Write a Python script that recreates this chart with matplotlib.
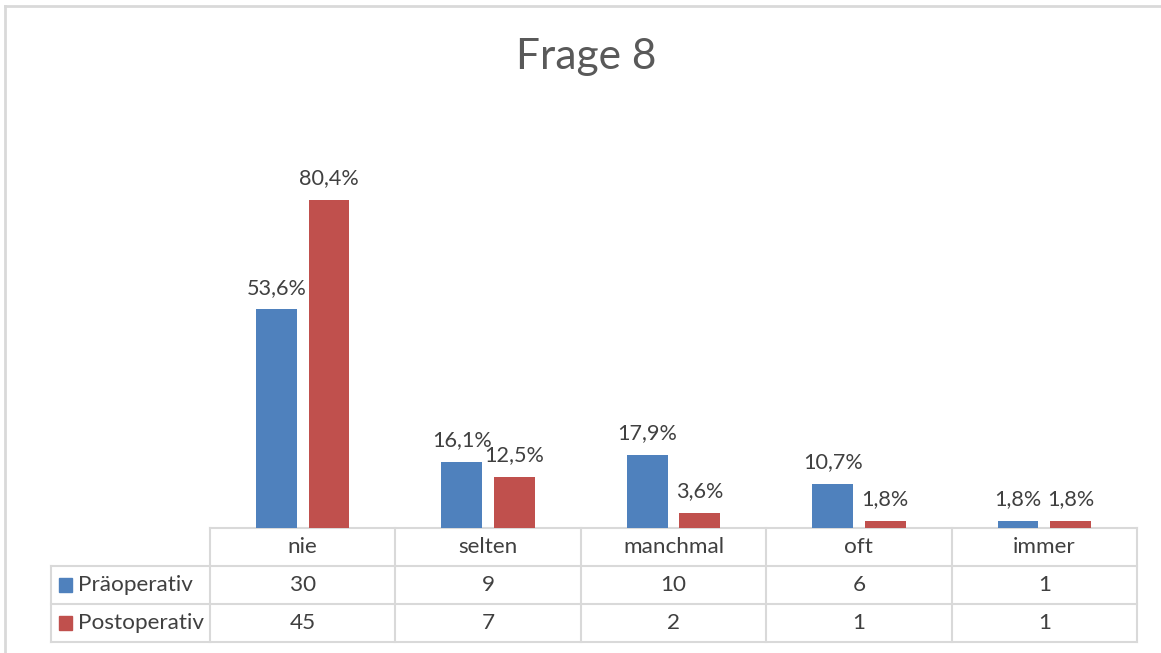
import matplotlib
matplotlib.use("Agg")
import matplotlib.pyplot as plt
from matplotlib.patches import Rectangle

# Daten
kategorien = ["nie", "selten", "manchmal", "oft", "immer"]
serien = ["Präoperativ", "Postoperativ"]
anzahl_prae = [30, 9, 10, 6, 1]
anzahl_post = [45, 7, 2, 1, 1]
prozent_prae = [53.6, 16.1, 17.9, 10.7, 1.8]
prozent_post = [80.4, 12.5, 3.6, 1.8, 1.8]

BLAU = "#4F81BD"
ROT = "#C0504D"
TEXT = "#404040"
GITTER = "#D9D9D9"

W, H = 1161, 653
plt.rcParams["font.family"] = ["Lato", "DejaVu Sans"]

fig = plt.figure(figsize=(W / 100, H / 100), dpi=100)

# Overlay in Pixelkoordinaten (Rahmen + Tabelle)
ov = fig.add_axes([0, 0, 1, 1])
ov.set_xlim(0, W); ov.set_ylim(H, 0); ov.axis("off")

# Plotbereich
x0, x1 = 210, 1137
y_base, y_top = 528, 161
ax = fig.add_axes([x0 / W, (H - y_base) / H, (x1 - x0) / W, (y_base - y_top) / H])
ax.set_xlim(-0.5, len(kategorien) - 0.5)
ax.set_ylim(0, 90)
ax.axis("off")

bw, off = 0.22, 0.142
pos = list(range(len(kategorien)))
b1 = ax.bar([p - off for p in pos], prozent_prae, bw, color=BLAU)
b2 = ax.bar([p + off for p in pos], prozent_post, bw, color=ROT)
for bars, vals in ((b1, prozent_prae), (b2, prozent_post)):
    for rect, v in zip(bars, vals):
        ax.annotate(f"{v:.1f}%".replace(".", ","),
                    (rect.get_x() + rect.get_width() / 2, rect.get_height()),
                    xytext=(0, 8.5), textcoords="offset points",
                    ha="center", va="bottom", fontsize=15.6, color=TEXT)

# Titel
fig.text(586 / W, 1 - 57 / H, "Frage 8", ha="center", va="center",
         fontsize=30.5, color="#595959")

# Rahmen
ov.plot([5, W], [6, 6], color=GITTER, lw=2)
ov.plot([5, 5], [6, H], color=GITTER, lw=2)

# Datentabelle
col_w = (x1 - x0) / len(kategorien)
rows_y = [528, 566, 604, 642]
leg_x = 51
ov.plot([x0, x1], [rows_y[0], rows_y[0]], color=GITTER, lw=1.5)
for y in rows_y[1:]:
    ov.plot([leg_x, x1], [y, y], color=GITTER, lw=1.5)
for k in range(len(kategorien) + 1):
    xx = x0 + k * col_w
    ov.plot([xx, xx], [rows_y[0], rows_y[-1]], color=GITTER, lw=1.5)
ov.plot([leg_x, leg_x], [rows_y[1], rows_y[-1]], color=GITTER, lw=1.5)

fs = 16.2
for k, kat in enumerate(kategorien):
    cx = x0 + (k + 0.5) * col_w
    ov.text(cx, (rows_y[0] + rows_y[1]) / 2, kat, ha="center", va="center",
            fontsize=fs, color=TEXT)
    ov.text(cx, (rows_y[1] + rows_y[2]) / 2, str(anzahl_prae[k]), ha="center",
            va="center", fontsize=fs, color=TEXT)
    ov.text(cx, (rows_y[2] + rows_y[3]) / 2, str(anzahl_post[k]), ha="center",
            va="center", fontsize=fs, color=TEXT)

for i, (name, farbe) in enumerate(zip(serien, (BLAU, ROT))):
    cy = (rows_y[i + 1] + rows_y[i + 2]) / 2
    ov.add_patch(Rectangle((59, cy - 7), 13, 14, color=farbe))
    ov.text(78, cy, name, ha="left", va="center", fontsize=16.2, color=TEXT)

fig.savefig("out.png", dpi=100)
